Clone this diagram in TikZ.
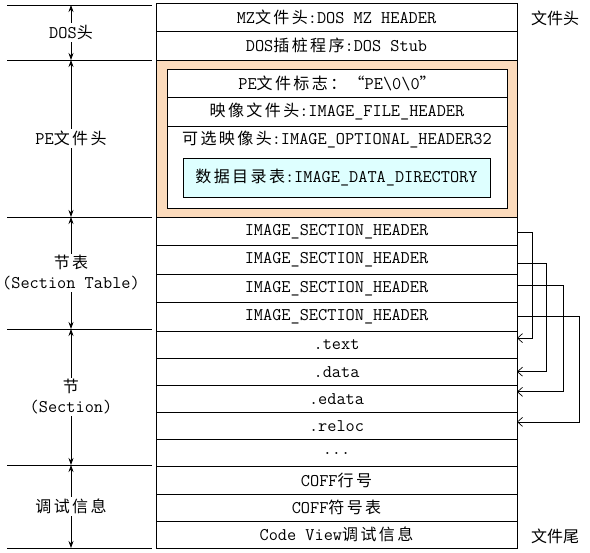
\documentclass[tikz,border=0pt]{standalone}
\usepackage{fontspec}
\newfontfamily\cjk[LetterSpace=15]{Noto Sans CJK SC}
\newfontfamily\cjkplain{Noto Sans CJK SC}
\newcommand{\zh}[1]{{\cjk\fontsize{16}{18}\selectfont #1}}
\usetikzlibrary{arrows.meta}
\definecolor{peorange}{RGB}{252,219,188}
\definecolor{dircyan}{RGB}{222,255,255}

\begin{document}
\begin{tikzpicture}[x=1pt, y=-1pt,
  every node/.style={font=\ttfamily\fontsize{17.8}{20}\selectfont, inner sep=0pt, outer sep=0pt},
  row/.style={draw, minimum width=361pt, minimum height=28.5pt},
  secrow/.style={draw, minimum width=361pt, minimum height=27.125pt},
  innerrow/.style={draw, minimum width=340pt},
  dimline/.style={{Stealth[length=7pt,width=5pt]}-{Stealth[length=7pt,width=5pt]}, line width=0.8pt},
  dimlabel/.style={fill=white, inner sep=2pt, align=center},
  link/.style={-{Straight Barb[length=5pt,width=9pt]}, line width=0.7pt},
  sideline/.style={line width=0.8pt}]
\useasboundingbox (0,0) rectangle (590,553);

% file header
\node[draw, minimum width=361pt, minimum height=28pt] (mz) at (336.5,17) {MZ\zh{文件头}:DOS MZ HEADER};
\node[draw, minimum width=361pt, minimum height=29pt] (stub) at (336.5,45.5) {DOS\zh{插桩程序}:DOS Stub};

% PE header
\node[draw, fill=peorange, minimum width=361pt, minimum height=157pt] (pe) at (336.5,138.5) {};
\node[draw, fill=white, minimum width=340pt, minimum height=139pt] (peinner) at (337,138.5) {};
\node[innerrow, minimum height=28pt] (sig) at (337,83) {PE\zh{文件标志：“}PE\textbackslash0\textbackslash0\zh{”}};
\node[innerrow, minimum height=29pt] (filehdr) at (337,111.5) {\zh{映像文件头}:IMAGE\_FILE\_HEADER};
\node (opt) at (337,140) {\zh{可选映像头}:IMAGE\_OPTIONAL\_HEADER32};
\node[draw, fill=dircyan, minimum width=307pt, minimum height=39pt] (dd) at (336.5,177.5) {\zh{数据目录表}:IMAGE\_DATA\_DIRECTORY};

% section table
\node[row] (sh1) at (336.5,231.25) {IMAGE\_SECTION\_HEADER};
\node[row] (sh2) at (336.5,259.75) {IMAGE\_SECTION\_HEADER};
\node[row] (sh3) at (336.5,288.25) {IMAGE\_SECTION\_HEADER};
\node[row] (sh4) at (336.5,316.75) {IMAGE\_SECTION\_HEADER};

% sections and debug info
\node[secrow] (text) at (336.5,344.6) {.text};
\node[secrow] (data) at (336.5,371.7) {.data};
\node[secrow] (edata) at (336.5,398.8) {.edata};
\node[secrow] (reloc) at (336.5,425.9) {.reloc};
\node[secrow] (more) at (336.5,453.1) {...};
\node[secrow] (coffln) at (336.5,480.2) {COFF\zh{行号}};
\node[secrow] (coffsym) at (336.5,507.3) {COFF\zh{符号表}};
\node[secrow] (cv) at (336.5,534.4) {Code View\zh{调试信息}};

% right labels
\node[font=\cjkplain\fontsize{16}{18}\selectfont] (head) at (555,18) {文件头};
\node[font=\cjkplain\fontsize{16}{18}\selectfont] (tail) at (555,536) {文件尾};

% header -> section links
\draw[link] ([yshift=-0.75pt]sh1.east) -- ++(15,0) |- ([yshift=6.5pt]text.east);
\draw[link] ([yshift=-4pt]sh2.east) -- ++(29,0) |- (data.east);
\draw[link] ([yshift=3pt]sh3.east) -- ++(46,0) |- ([yshift=7pt]edata.east);
\draw[link] (sh4.east) -- ++(62,0) |- ([yshift=4pt]reloc.east);

% left side divisions
\draw[sideline] (7,5) -- (152,5);
\draw[sideline] (7,60) -- (152,60);
\draw[sideline] (7,217) -- (152,217);
\draw[sideline] (7,329) -- (152,329);
\draw[sideline] (7,465) -- (152,465);
\draw[sideline] (7,548) -- (152,548);

\coordinate (d0) at (71,5);
\coordinate (d1) at (71,60);
\coordinate (d2) at (71,217);
\coordinate (d3) at (71,329);
\coordinate (d4) at (71,465);
\coordinate (d5) at (71,548);

\draw[dimline] (d0) -- (d1) node[dimlabel, midway] (dos) {DOS\zh{头}};
\draw[dimline] (d1) -- (d2) node[dimlabel, midway] (pehead) {PE\zh{文件头}};
\draw[dimline] (d2) -- (d3) node[dimlabel, midway] (sectab) {\zh{节表}\\(Section Table)};
\draw[dimline] (d3) -- (d4) node[dimlabel, midway] (sect) {\zh{节}\\(Section)};
\draw[dimline] (d4) -- (d5) node[dimlabel, midway] (debug) {\zh{调试信息}};
\end{tikzpicture}
\end{document}
